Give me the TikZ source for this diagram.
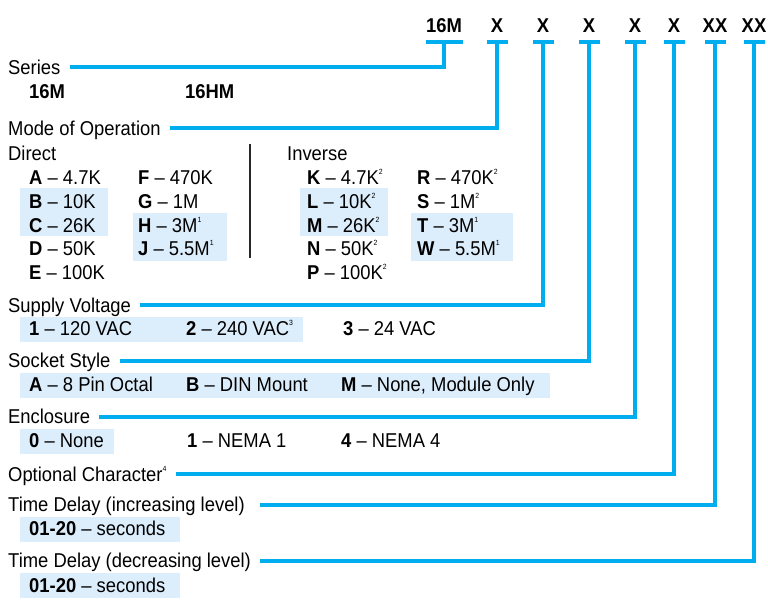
\documentclass[tikz,border=0pt]{standalone}
\usepackage{fontspec}
\setmainfont{Liberation Sans}[FakeStretch=0.92]
\definecolor{lineblue}{RGB}{0,174,239}
\definecolor{hiblue}{RGB}{220,237,251}
\definecolor{sepgray}{RGB}{40,40,40}
\newcommand\supn[1]{\raisebox{0.5em}{\fontsize{7.5}{7.5}\selectfont #1}}
\tikzset{
  txt/.style={anchor=base west, inner sep=0pt, font=\fontsize{20}{24}\selectfont},
  lbl/.style={txt, text height=13.5pt, text depth=0pt},
  hdr/.style={anchor=base, inner sep=0pt, font=\fontsize{20}{24}\selectfont\bfseries},
  conn/.style={draw=lineblue, line width=4pt, line join=miter},
  hi/.style={fill=hiblue},
  sep/.style={draw=sepgray, line width=1.2pt},
}
\begin{document}
\begin{tikzpicture}[x=1pt,y=-1pt]
\useasboundingbox (0,0) rectangle (768,603);
% highlight boxes
\fill[hi] (20,188) rectangle (108,236);
\fill[hi] (133,213) rectangle (227,261);
\fill[hi] (300,188) rectangle (388,236);
\fill[hi] (411,213) rectangle (513,261);
\fill[hi] (20,317) rectangle (303,342);
\fill[hi] (20,373) rectangle (550,398);
\fill[hi] (20,429) rectangle (114,454);
\fill[hi] (20,517) rectangle (180,542);
\fill[hi] (20,573) rectangle (180,598);
% header
\node[hdr] (h1) at (444,32) {16M};
\node[hdr] (h2) at (497,32) {X};
\node[hdr] (h3) at (543,32) {X};
\node[hdr] (h4) at (589,32) {X};
\node[hdr] (h5) at (635,32) {X};
\node[hdr] (h6) at (674,32) {X};
\node[hdr] (h7) at (715,32) {XX};
\node[hdr] (h8) at (754,32) {XX};
\coordinate (bary) at (0,42);
\foreach \i in {1,...,8} {\coordinate (t\i) at (h\i.base |- bary);}
\draw[conn] ([xshift=-18.5pt]t1) -- ([xshift=18.5pt]t1);
\foreach \i in {2,...,8} {\draw[conn] ([xshift=-10.5pt]t\i) -- ([xshift=10.5pt]t\i);}
% labels
\node[lbl] (l1) at (8,74) {Series};
\node[lbl] (l2) at (8,135) {Mode of Operation};
\node[lbl] (l3) at (8,312) {Supply Voltage};
\node[lbl] (l4) at (8,367.5) {Socket Style};
\node[lbl] (l5) at (8,423.5) {Enclosure};
\node[lbl] (l6) at (8,481) {Optional Character\supn{4}};
\node[lbl] (l7) at (8,511.5) {Time Delay (increasing level)};
\node[lbl] (l8) at (8,567.5) {Time Delay (decreasing level)};
% connectors
\draw[conn] ([xshift=9pt]l1.east) -| (t1);
\draw[conn] ([xshift=9pt]l2.east) -| (t2);
\draw[conn] ([xshift=9pt]l3.east) -| (t3);
\draw[conn] ([xshift=9pt]l4.east) -| (t4);
\draw[conn] ([xshift=9pt]l5.east) -| (t5);
\draw[conn] ([xshift=9pt]l6.east) -| (t6);
\draw[conn] ([xshift=9pt]l8.east |- l7.east) -| (t7);
\draw[conn] ([xshift=9pt]l8.east) -| (t8);
% series options
\node[txt] (s1) at (29,98) {\textbf{16M}};
\node[txt] (s2) at (185,98) {\textbf{16HM}};
% mode of operation
\node[txt] (dir) at (8,160) {Direct};
\node[txt] (inv) at (287,160) {Inverse};
\node[txt] (mA) at (29,184) {\textbf{A} – 4.7K};
\node[txt] (mB) at (29,208) {\textbf{B} – 10K};
\node[txt] (mC) at (29,232) {\textbf{C} – 26K};
\node[txt] (mD) at (29,255) {\textbf{D} – 50K};
\node[txt] (mE) at (29,279) {\textbf{E} – 100K};
\node[txt] (mF) at (138,184) {\textbf{F} – 470K};
\node[txt] (mG) at (138,208) {\textbf{G} – 1M};
\node[txt] (mH) at (138,232) {\textbf{H} – 3M\supn{1}};
\node[txt] (mJ) at (138,255) {\textbf{J} – 5.5M\supn{1}};
\node[txt] (mK) at (307,184) {\textbf{K} – 4.7K\supn{2}};
\node[txt] (mL) at (307,208) {\textbf{L} – 10K\supn{2}};
\node[txt] (mM) at (307,232) {\textbf{M} – 26K\supn{2}};
\node[txt] (mN) at (307,255) {\textbf{N} – 50K\supn{2}};
\node[txt] (mP) at (307,279) {\textbf{P} – 100K\supn{2}};
\node[txt] (mR) at (417,184) {\textbf{R} – 470K\supn{2}};
\node[txt] (mS) at (417,208) {\textbf{S} – 1M\supn{2}};
\node[txt] (mT) at (417,232) {\textbf{T} – 3M\supn{1}};
\node[txt] (mW) at (417,255) {\textbf{W} – 5.5M\supn{1}};
\coordinate (sept) at (250,144);
\coordinate (sepb) at (250,258);
\draw[sep] (sept) -- (sepb);
% supply voltage
\node[txt] (v1) at (29,335) {\textbf{1} – 120 VAC};
\node[txt] (v2) at (186,335) {\textbf{2} – 240 VAC\supn{3}};
\node[txt] (v3) at (343,335) {\textbf{3} – 24 VAC};
% socket style
\node[txt] (k1) at (29,391) {\textbf{A} – 8 Pin Octal};
\node[txt] (k2) at (186,391) {\textbf{B} – DIN Mount};
\node[txt] (k3) at (341,391) {\textbf{M} – None, Module Only};
% enclosure
\node[txt] (e1) at (29,447) {\textbf{0} – None};
\node[txt] (e2) at (187,447) {\textbf{1} – NEMA 1};
\node[txt] (e3) at (341,447) {\textbf{4} – NEMA 4};
% time delays
\node[txt] (d1) at (29,535) {\textbf{01-20} – seconds};
\node[txt] (d2) at (29,592) {\textbf{01-20} – seconds};
\end{tikzpicture}
\end{document}
